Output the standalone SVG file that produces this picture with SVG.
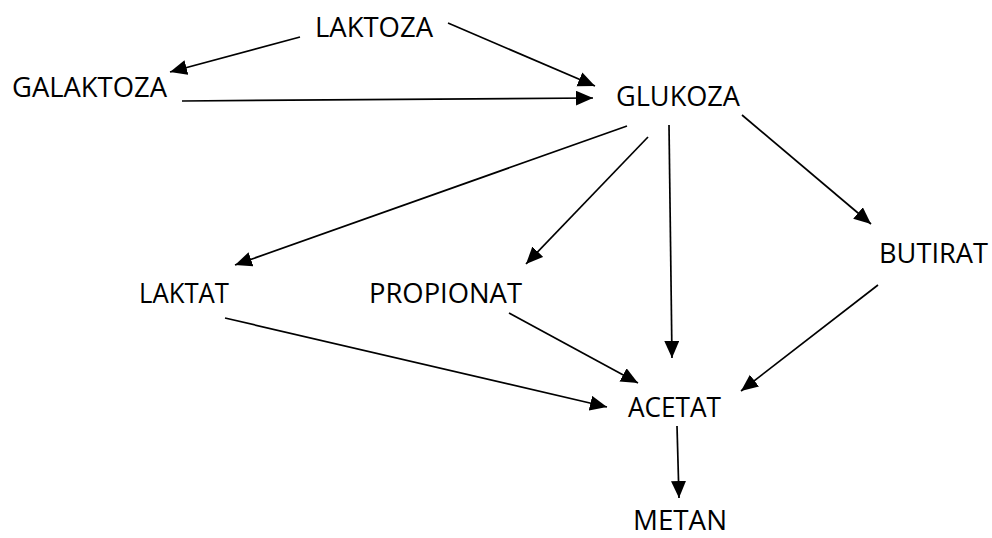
<svg xmlns="http://www.w3.org/2000/svg" width="992" height="538" viewBox="0 0 992 538">
<style>
.lbl{font-family:"Open Sans","Liberation Sans",sans-serif;font-size:28px;fill:#000}
.c line{stroke:#000;stroke-width:1.7;marker-end:url(#ah)}
</style>
<defs>
<marker id="ah" markerUnits="userSpaceOnUse" markerWidth="18" markerHeight="16" refX="17" refY="7.5" orient="auto">
<path d="M0,0 L17,7.5 L0,15 z" fill="#000"/>
</marker>
</defs>
<rect width="992" height="538" fill="#fff"/>
<g id="connectors" class="c">
<line x1="300" y1="37" x2="170" y2="72"/>
<line x1="448" y1="23" x2="595" y2="86"/>
<line x1="182" y1="101" x2="593" y2="98"/>
<line x1="627" y1="126" x2="235" y2="265"/>
<line x1="648" y1="137" x2="526" y2="264"/>
<line x1="669" y1="125" x2="672" y2="358"/>
<line x1="742" y1="115" x2="871" y2="224"/>
<line x1="225" y1="318" x2="607" y2="407"/>
<line x1="509" y1="313" x2="638" y2="383"/>
<line x1="878" y1="285" x2="741" y2="391"/>
<line x1="677" y1="426" x2="679" y2="498"/>
</g>
<g id="laktoza"><text class="lbl" x="315" y="37" textLength="118" lengthAdjust="spacingAndGlyphs">LAKTOZA</text></g>
<g id="galaktoza"><text class="lbl" x="12" y="97" textLength="155" lengthAdjust="spacingAndGlyphs">GALAKTOZA</text></g>
<g id="glukoza"><text class="lbl" x="616" y="106" textLength="124" lengthAdjust="spacingAndGlyphs">GLUKOZA</text></g>
<g id="butirat"><text class="lbl" x="879" y="263" textLength="109" lengthAdjust="spacingAndGlyphs">BUTIRAT</text></g>
<g id="laktat"><text class="lbl" x="139" y="303" textLength="90" lengthAdjust="spacingAndGlyphs">LAKTAT</text></g>
<g id="propionat"><text class="lbl" x="369" y="303" textLength="153" lengthAdjust="spacingAndGlyphs">PROPIONAT</text></g>
<g id="acetat"><text class="lbl" x="628" y="417" textLength="93" lengthAdjust="spacingAndGlyphs">ACETAT</text></g>
<g id="metan"><text class="lbl" x="633" y="530" textLength="94" lengthAdjust="spacingAndGlyphs">METAN</text></g>
</svg>
